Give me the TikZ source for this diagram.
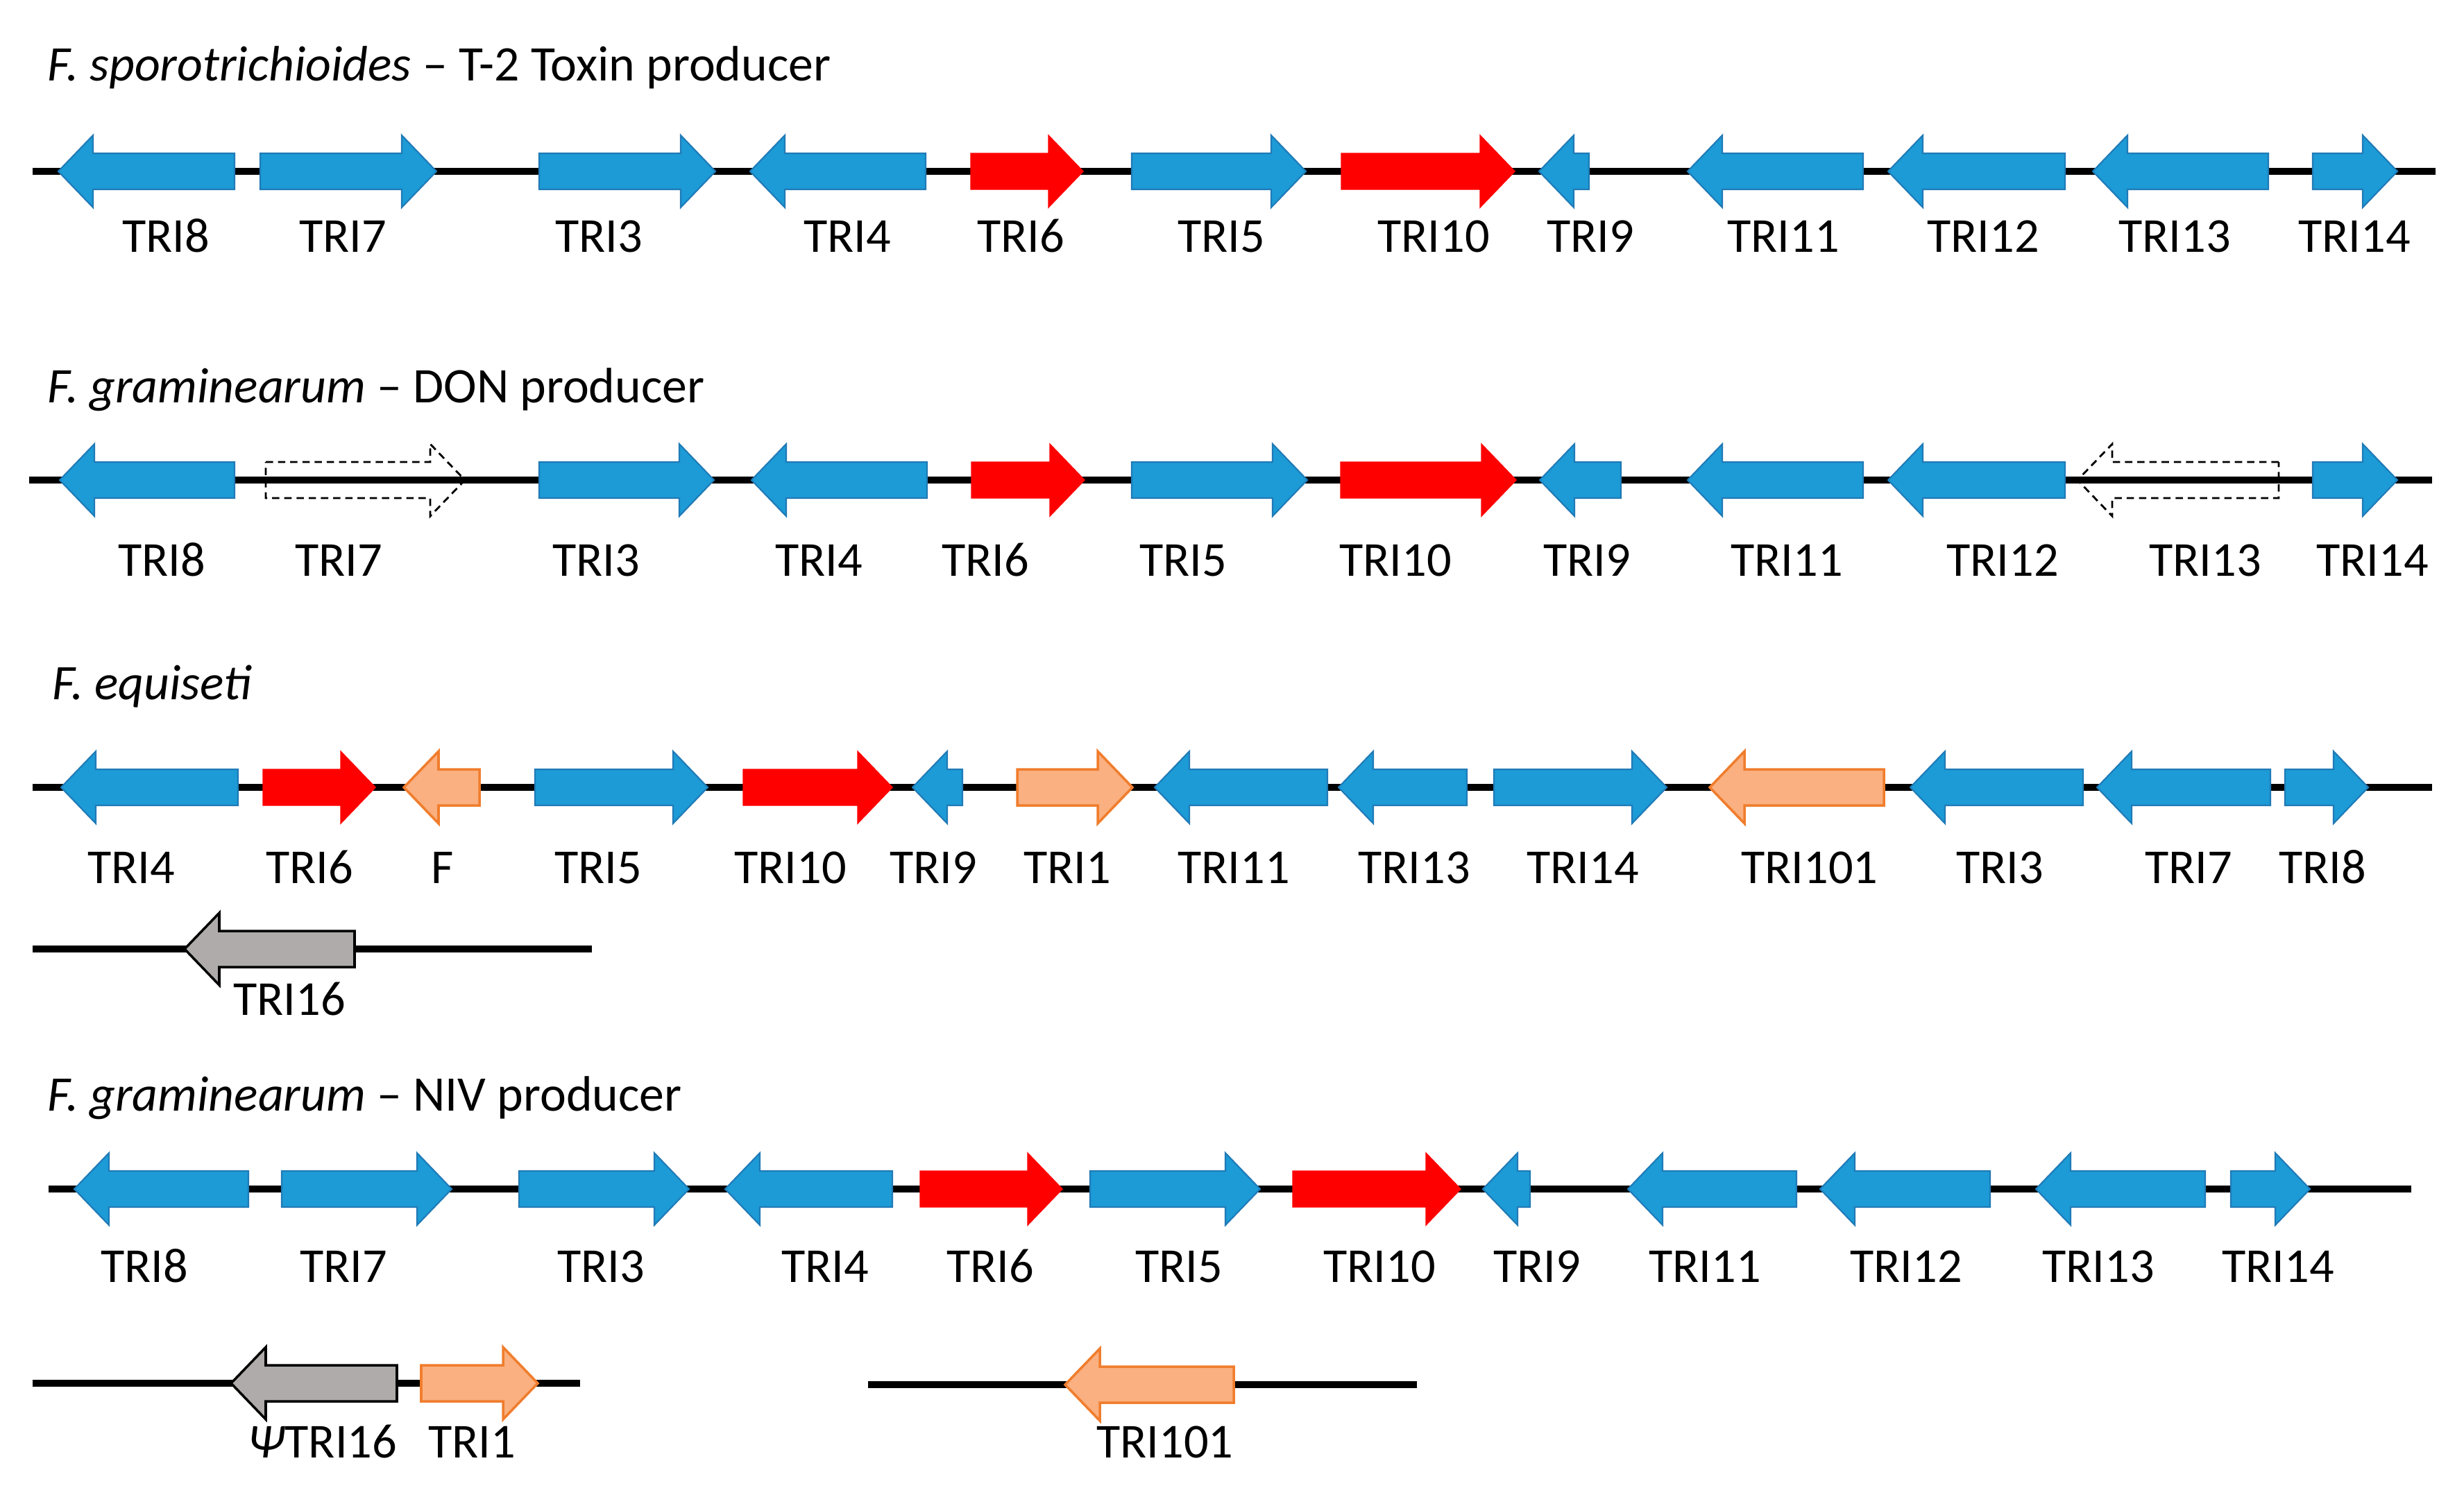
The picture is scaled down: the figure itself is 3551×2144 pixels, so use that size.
\documentclass[tikz,border=0pt]{standalone}
\usepackage{fontspec}
\setmainfont{Carlito}
\usetikzlibrary{calc}

\definecolor{triblue}{RGB}{28,155,214}
\definecolor{triblueedge}{RGB}{32,122,182}
\definecolor{triorange}{RGB}{250,176,128}
\definecolor{triorangeedge}{RGB}{240,125,45}
\definecolor{trigray}{RGB}{175,171,171}

\tikzset{
 chrom/.style={black, line width=2.8pt},
 gblue/.style={fill=triblue, draw=triblueedge, line width=0.6pt},
 gred/.style={fill=red, draw=red, line width=0.4pt},
 gorange/.style={fill=triorange, draw=triorangeedge, line width=1pt},
 ggray/.style={fill=trigray, draw=black, line width=1pt},
 gdash/.style={draw=black, densely dashed, line width=0.8pt},
 lbl/.style={anchor=base, inner sep=0pt, font=\fontsize{20}{24}\selectfont},
 ttl/.style={anchor=base west, inner sep=0pt, font=\fontsize{20.4}{24}\selectfont}
}

\begin{document}
\begin{tikzpicture}[x=0.01cm, y=-0.01cm]
\useasboundingbox (0,0) rectangle (3551,2144);

% titles
\node[ttl] (t1) at (68,116) {\textit{F. sporotrichioides} -- T-2 Toxin producer};
\node[ttl] (t2) at (68,580) {\textit{F. graminearum} -- DON producer};
\node[ttl] (t3) at (75,1008) {\textit{F. equiseti}};
\node[ttl] (t4) at (68,1601) {\textit{F. graminearum} -- NIV producer};

% chromosome lines
\foreach \n/\y/\xa/\xb in {r1/247/47/3510, r2/692/42/3505, r3/1135/47/3505, r3b/1368/47/853,
 r4/1714/70/3475, r4b/1994/47/836, r4c/1996/1251/2042} {
 \coordinate (\n w) at (\xa,\y);
 \coordinate (\n e) at (\xb,\y);
 \draw[chrom] (\n w) -- (\n e);
}

% genes: line y / tail / tip / label x / label baseline / style / name
\foreach \y/\a/\b/\lx/\ly/\kind/\txt [count=\i] in {
 247/338/84/239/363/gblue/TRI8, 247/375/629/494/363/gblue/TRI7,
 247/777/1031/863/363/gblue/TRI3, 247/1334/1081/1221/363/gblue/TRI4,
 247/1399/1561/1471/363/gred/TRI6, 247/1631/1882/1760/363/gblue/TRI5,
 247/1933/2183/2066/363/gred/TRI10, 247/2290/2218/2292/363/gblue/TRI9,
 247/2685/2432/2570/363/gblue/TRI11, 247/2976/2721/2858/363/gblue/TRI12,
 247/3269/3016/3134/363/gblue/TRI13, 247/3333/3455/3393/363/gblue/TRI14,
 692/338/86/233/830/gblue/TRI8, 692/383/670/488/830/gdash/TRI7,
 692/777/1029/859/830/gblue/TRI3, 692/1336/1083/1180/830/gblue/TRI4,
 692/1400/1563/1420/830/gred/TRI6, 692/1631/1884/1705/830/gblue/TRI5,
 692/1932/2185/2011/830/gred/TRI10, 692/2336/2219/2287/830/gblue/TRI9,
 692/2685/2432/2575/830/gblue/TRI11, 692/2976/2721/2886/830/gblue/TRI12,
 692/3284/2994/3178/830/gdash/TRI13, 692/3333/3455/3419/830/gblue/TRI14,
 1135/343/88/189/1273/gblue/TRI4, 1135/379/541/446/1273/gred/TRI6,
 1135/691/582/638/1273/gorange/F, 1135/771/1020/862/1273/gblue/TRI5,
 1135/1071/1286/1139/1273/gred/TRI10, 1135/1387/1315/1345/1273/gblue/TRI9,
 1135/1466/1632/1538/1273/gorange/TRI1, 1135/1913/1664/1778/1273/gblue/TRI11,
 1135/2114/1929/2038/1273/gblue/TRI13, 1135/2153/2402/2281/1273/gblue/TRI14,
 1135/2715/2464/2608/1273/gorange/TRI101, 1135/3002/2753/2882/1273/gblue/TRI3,
 1135/3272/3022/3154/1273/gblue/TRI7, 1135/3293/3413/3347/1273/gblue/TRI8,
 1368/511/266/417/1463/ggray/TRI16,
 1714/358/107/208/1848/gblue/TRI8, 1714/406/651/495/1848/gblue/TRI7,
 1714/748/993/866/1848/gblue/TRI3, 1714/1286/1045/1189/1848/gblue/TRI4,
 1714/1326/1531/1427/1848/gred/TRI6, 1714/1571/1816/1699/1848/gblue/TRI5,
 1714/1863/2105/1988/1848/gred/TRI10, 1714/2205/2137/2215/1848/gblue/TRI9,
 1714/2589/2346/2457/1848/gblue/TRI11, 1714/2868/2623/2747/1848/gblue/TRI12,
 1714/3178/2934/3024/1848/gblue/TRI13, 1714/3215/3329/3283/1848/gblue/TRI14,
 1994/572/333/465/2101/ggray/{\itshape Ψ}TRI16, 1994/607/775/680/2101/gorange/TRI1,
 1996/1778/1535/1679/2101/gorange/TRI101} {
 \pgfmathsetmacro\hb{\b-50*sign(\b-\a)}
 \draw[\kind] (\a,\y-26) -- (\hb,\y-26) -- (\hb,\y-52) -- (\b,\y)
   -- (\hb,\y+52) -- (\hb,\y+26) -- (\a,\y+26) -- cycle;
 \node[lbl] (g\i) at (\lx,\ly) {\txt};
}
\end{tikzpicture}
\end{document}
